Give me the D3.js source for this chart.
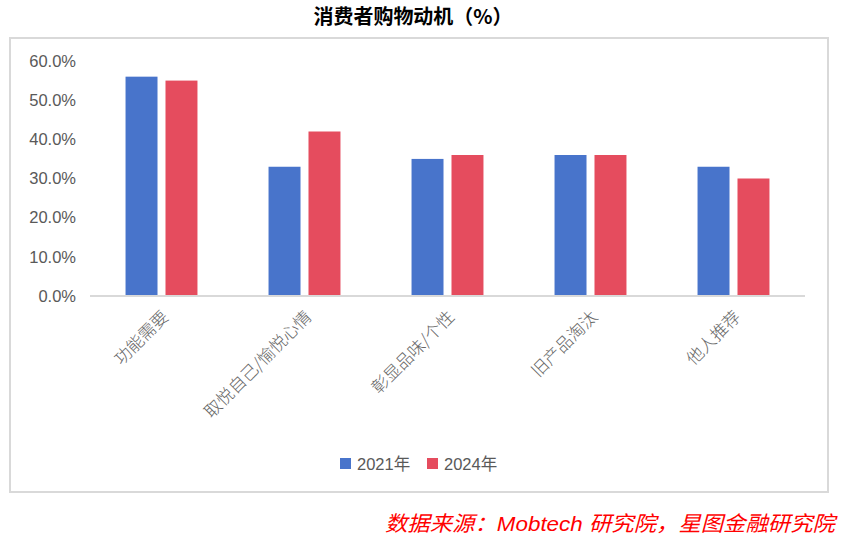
<!DOCTYPE html>
<html><head><meta charset="utf-8">
<script src="https://cdn.jsdelivr.net/npm/d3@7"></script>
<style>
body{margin:0;background:#fff;}
svg{display:block;font-family:"Liberation Sans","Noto Sans CJK SC",sans-serif;}
</style></head><body>
<script>
const categories = ["功能需要","取悦自己/愉悦心情","彰显品味/个性","旧产品淘汰","他人推荐"];
const seriesNames = ["2021年","2024年"];
const values2021 = [0.56,0.33,0.35,0.36,0.33];
const values2024 = [0.55,0.42,0.36,0.36,0.30];
const yTicks = [0,0.1,0.2,0.3,0.4,0.5,0.6];
const colors = ["#4874cb","#e54c5e"];

const W=842,H=538;
const svg=d3.select("body").append("svg").attr("width",W).attr("height",H);

// outer frame
svg.append("rect").attr("x",10).attr("y",38).attr("width",818).attr("height",454)
  .attr("fill","none").attr("stroke","#d9d9d9").attr("stroke-width",2);

// title
svg.append("text").attr("x",413).attr("y",24).attr("text-anchor","middle")
  .attr("font-size",20).attr("font-weight","bold").attr("fill","#000")
  .attr("font-family","'Noto Sans CJK SC',sans-serif")
  .attr("textLength",199).attr("lengthAdjust","spacingAndGlyphs")
  .text("消费者购物动机（%）");

const x0=d3.scaleBand().domain(categories).range([90,805]).paddingInner(0.497).paddingOuter(0.2485);
const x1=d3.scaleBand().domain(seriesNames).range([0,x0.bandwidth()]).paddingInner(0.2).paddingOuter(0);
const y=d3.scaleLinear().domain([0,0.6]).range([296,61]);

const data=categories.map((c,i)=>({cat:c,vals:[values2021[i],values2024[i]]}));

// bars
const g=svg.append("g");
g.selectAll("g.grp").data(data).enter().append("g").attr("class","grp")
 .attr("transform",d=>`translate(${x0(d.cat)},0)`)
 .selectAll("rect").data(d=>d.vals.map((v,j)=>({s:seriesNames[j],v,j}))).enter().append("rect")
 .attr("x",d=>x1(d.s)).attr("width",x1.bandwidth())
 .attr("y",d=>y(d.v)).attr("height",d=>y(0)-y(d.v))
 .attr("fill",d=>colors[d.j]);

// baseline
svg.append("line").attr("x1",90).attr("x2",805).attr("y1",y(0)).attr("y2",y(0))
  .attr("stroke","#d9d9d9").attr("stroke-width",2);

// y axis labels
const yAxis=d3.axisLeft(y).tickValues(yTicks).tickFormat(d3.format(".1%")).tickSize(0).tickPadding(0);
const ya=svg.append("g").attr("transform","translate(76,0)").call(yAxis);
ya.select(".domain").remove();
ya.selectAll("text").attr("font-size",16.5).attr("fill","#595959")
  .attr("font-family","'Liberation Sans',Arial,sans-serif");

// x axis labels
const xAxis=d3.axisBottom(x0).tickSize(0).tickPadding(0);
const xa=svg.append("g").attr("transform",`translate(0,${y(0)})`).call(xAxis);
xa.select(".domain").remove();
xa.selectAll("text").attr("font-size",17).attr("fill","#666")
  .attr("font-family","'Noto Sans CJK SC',sans-serif").attr("font-weight",300)
  .attr("text-anchor","end").attr("dy",null).attr("y",0)
  .attr("transform","translate(8,22) rotate(-45)");

// legend
const legend=svg.append("g");
const legItems=[{name:seriesNames[0],x:340},{name:seriesNames[1],x:427}];
legItems.forEach((it,i)=>{
  legend.append("rect").attr("x",it.x).attr("y",458).attr("width",11).attr("height",11).attr("fill",colors[i]);
  legend.append("text").attr("x",it.x+17).attr("y",469.5).attr("font-size",16.5).attr("fill","#595959")
    .attr("font-family","'Liberation Sans','Noto Sans CJK SC',sans-serif").text(it.name);
});

// source
svg.append("text").attr("x",835).attr("y",531).attr("text-anchor","end")
  .attr("font-size",21).attr("font-style","italic").attr("fill","#ff0000")
  .attr("font-family","'Liberation Sans','Noto Sans CJK SC',sans-serif")
  .attr("textLength",450).attr("lengthAdjust","spacingAndGlyphs")
  .text("数据来源：Mobtech 研究院，星图金融研究院");
</script>
</body></html>
